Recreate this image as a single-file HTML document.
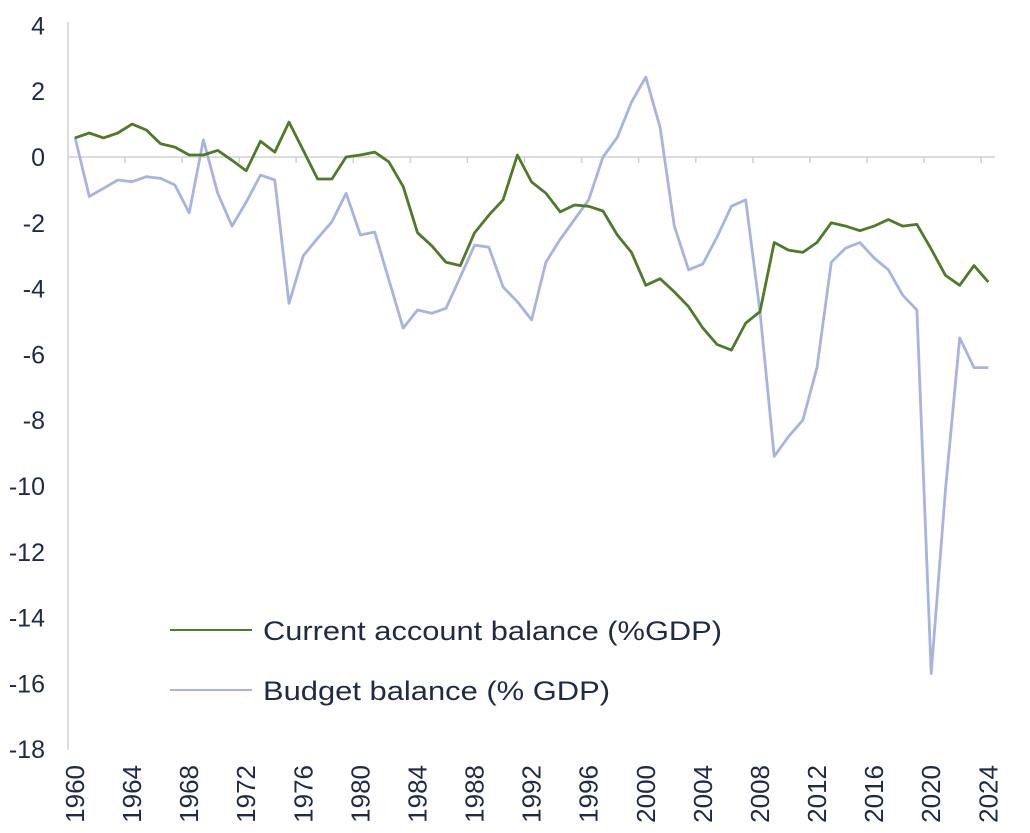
<!DOCTYPE html>
<html><head><meta charset="utf-8"><style>
html,body{margin:0;padding:0;background:#fff;}
svg{display:block;font-family:"Liberation Sans",sans-serif;}
</style></head><body>
<svg id="chart" width="1030" height="833" viewBox="0 0 1030 833" xmlns="http://www.w3.org/2000/svg">
<g id="axes"></g>
<g id="series"></g>
<g>
<line x1="170" y1="630" x2="252" y2="630" stroke="#4f7a28" stroke-width="2"/>
<text x="263" y="640" font-size="27" textLength="459" lengthAdjust="spacingAndGlyphs" fill="#1f2a44">Current account balance (%GDP)</text>
<line x1="170" y1="690" x2="252" y2="690" stroke="#a9b3e0" stroke-width="2"/>
<text x="263" y="700" font-size="27" textLength="347" lengthAdjust="spacingAndGlyphs" fill="#1f2a44">Budget balance (% GDP)</text>
</g>
</svg>
<script>
const years = [];
for (let y = 1960; y <= 2024; y++) years.push(y);
const currentAccount = [0.58,0.73,0.58,0.73,1.0,0.82,0.4,0.3,0.06,0.06,0.2,-0.1,-0.42,0.48,0.15,1.06,0.2,-0.67,-0.67,0,0.06,0.15,-0.15,-0.9,-2.3,-2.7,-3.2,-3.3,-2.3,-1.77,-1.3,0.06,-0.76,-1.1,-1.67,-1.46,-1.5,-1.64,-2.37,-2.9,-3.9,-3.7,-4.1,-4.55,-5.2,-5.7,-5.87,-5.05,-4.7,-2.6,-2.83,-2.9,-2.6,-2.0,-2.1,-2.24,-2.1,-1.9,-2.1,-2.05,-2.8,-3.6,-3.9,-3.3,-3.8];
const budget = [0.6,-1.2,-0.95,-0.7,-0.75,-0.6,-0.65,-0.85,-1.7,0.52,-1.1,-2.1,-1.37,-0.55,-0.7,-4.45,-3.0,-2.47,-1.97,-1.1,-2.37,-2.28,-3.74,-5.2,-4.65,-4.75,-4.6,-3.65,-2.68,-2.74,-3.95,-4.4,-4.95,-3.2,-2.5,-1.9,-1.3,0,0.6,1.67,2.43,0.9,-2.1,-3.43,-3.25,-2.43,-1.5,-1.3,-4.7,-9.1,-8.5,-8.0,-6.4,-3.2,-2.77,-2.6,-3.07,-3.43,-4.2,-4.65,-15.7,-10.1,-5.5,-6.4,-6.4];
const yTicks = [4,2,0,-2,-4,-6,-8,-10,-12,-14,-16,-18];
const xTickLabels = [1960,1964,1968,1972,1976,1980,1984,1988,1992,1996,2000,2004,2008,2012,2016,2020,2024];

const NS = "http://www.w3.org/2000/svg";
const xs = yr => 75 + (yr - 1960) * 14.27;
const ys = v => 157 - v * 32.9;
function mk(tag, attrs, parent) {
  const e = document.createElementNS(NS, tag);
  for (const k in attrs) e.setAttribute(k, attrs[k]);
  parent.appendChild(e);
  return e;
}
const axes = document.getElementById('axes');
const series = document.getElementById('series');

const yAxis = mk('line', {x1:68, y1:22, x2:68, y2:750, stroke:'#d0d0d0', 'stroke-width':1.5}, axes);


const zero = mk('line', {x1:68, y1:ys(0), x2:995, y2:ys(0), stroke:'#d0d0d0', 'stroke-width':1.5}, axes);


for (let yr = 1963.5; yr <= 2024; yr += 4) {
  const t = mk('line', {x1:xs(yr), y1:ys(0), x2:xs(yr), y2:ys(0)+6, stroke:'#d0d0d0', 'stroke-width':1.5}, axes);
  
  
}
yTicks.forEach(v => {
  const t = mk('text', {x:45, y:ys(v)+9, 'text-anchor':'end', 'font-size':25, fill:'#1f2a44'}, axes);
  
  
  t.textContent = v;
});
xTickLabels.forEach(yr => {
  const x = xs(yr) + 9;
  const t = mk('text', {x:x, y:765, 'text-anchor':'end', 'font-size':26, fill:'#1f2a44', transform:`rotate(-90 ${x} 765)`}, axes);
  
  
  t.textContent = yr;
});
function path(vals) {
  return vals.map((v, i) => (i ? 'L' : 'M') + xs(years[i]).toFixed(1) + ' ' + ys(v).toFixed(1)).join(' ');
}
const b = mk('path', {d:path(budget), fill:'none', stroke:'#a9b3e0', 'stroke-width':2.8, 'stroke-linejoin':'round'}, series);


const c = mk('path', {d:path(currentAccount), fill:'none', stroke:'#4f7a28', 'stroke-width':2.8, 'stroke-linejoin':'round'}, series);


</script>
</body></html>
